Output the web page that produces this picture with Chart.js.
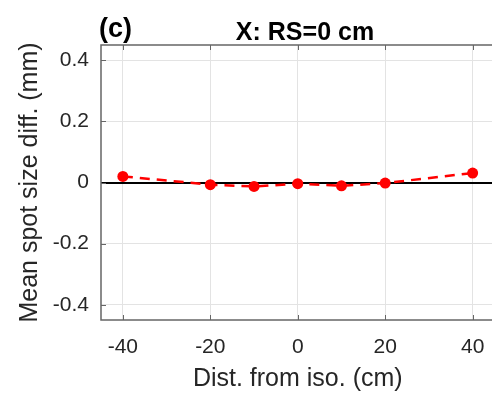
<!DOCTYPE html>
<html>
<head>
<meta charset="utf-8">
<script src="https://cdn.jsdelivr.net/npm/chart.js@4.4.0/dist/chart.umd.min.js"></script>
<style>
    html, body { margin: 0; padding: 0; background: #fff; overflow: hidden; }
    #contenitore { width: 492px; height: 394px; overflow: hidden; }
</style>
</head>
<body>
<div id="contenitore"><canvas id="grafico" width="500" height="394"></canvas></div>
<script>
// dati
var distanze = [-40, -20, -10, 0, 10, 20, 40];
var diffSpot = [0.020, -0.007, -0.013, -0.004, -0.011, -0.002, 0.031];
var tickX = [-40, -20, 0, 20, 40];
var tickY = [-0.4, -0.2, 0, 0.2, 0.4];
var pannello = '(c)';
var titolo = 'X: RS=0 cm';
var etichettaX = 'Dist. from iso. (cm)';
var etichettaY = 'Mean spot size diff. (mm)';

var FONT = '"Liberation Sans", Arial, Helvetica, sans-serif';

var punti = [];
for (var i = 0; i < distanze.length; i++) {
    punti.push({ x: distanze[i], y: diffSpot[i] });
}

// cornice stile matlab + titolo
var cornice = {
    id: 'cornice',
    afterDraw: function (chart) {
        var ctx = chart.ctx;
        var a = chart.chartArea;
        var sx = chart.scales.x;
        var sy = chart.scales.y;
        ctx.save();
        ctx.strokeStyle = '#666666';
        ctx.lineWidth = 1.5;
        ctx.strokeRect(a.left, a.top, a.right - a.left, a.bottom - a.top);
        ctx.lineWidth = 1;
        ctx.beginPath();
        for (var i = 0; i < tickX.length; i++) {
            var px = Math.round(sx.getPixelForValue(tickX[i])) + 0.5;
            ctx.moveTo(px, a.bottom); ctx.lineTo(px, a.bottom - 5);
            ctx.moveTo(px, a.top); ctx.lineTo(px, a.top + 5);
        }
        for (var j = 0; j < tickY.length; j++) {
            var py = Math.round(sy.getPixelForValue(tickY[j])) + 0.5;
            ctx.moveTo(a.left, py); ctx.lineTo(a.left + 5, py);
        }
        ctx.stroke();

        ctx.fillStyle = '#000';
        ctx.textBaseline = 'alphabetic';
        ctx.font = 'bold 25px ' + FONT;
        ctx.textAlign = 'center';
        ctx.fillText(titolo, 305, 40);
        ctx.font = 'bold 27px ' + FONT;
        ctx.textAlign = 'left';
        ctx.fillText(pannello, 99, 37);
        ctx.restore();
    }
};

var ctx = document.getElementById('grafico');
var chart = new Chart(ctx, {
    type: 'line',
    data: {
        datasets: [{
            data: punti,
            borderColor: '#ff0000',
            backgroundColor: '#ff0000',
            borderWidth: 2.5,
            borderDash: [10, 7],
            pointRadius: 5.5,
            pointHoverRadius: 5.5,
            pointBackgroundColor: '#ff0000',
            pointBorderWidth: 0,
            tension: 0
        }]
    },
    options: {
        responsive: false,
        animation: false,
        events: [],
        layout: { padding: { top: 45, right: 2, bottom: 0, left: 0 } },
        plugins: {
            legend: { display: false },
            tooltip: { enabled: false },
            title: { display: false }
        },
        scales: {
            x: {
                type: 'linear',
                min: -45,
                max: 45,
                afterBuildTicks: function (scale) {
                    scale.ticks = tickX.map(function (v) { return { value: v }; });
                },
                afterFit: function (scale) { scale.height = 74; },
                ticks: {
                    padding: 15,
                    color: '#262626',
                    font: { family: FONT, size: 21 },
                    maxRotation: 0,
                    callback: function (v) { return String(v); }
                },
                grid: { color: '#e3e3e3', lineWidth: 1, drawTicks: false },
                border: { display: false },
                title: {
                    display: true,
                    text: etichettaX,
                    color: '#262626',
                    font: { family: FONT, size: 25 },
                    padding: { top: 0, bottom: 0 }
                }
            },
            y: {
                min: -0.45,
                max: 0.45,
                afterBuildTicks: function (scale) {
                    scale.ticks = tickY.map(function (v) { return { value: v }; });
                },
                afterFit: function (scale) { scale.width = 101; },
                ticks: {
                    padding: 12,
                    color: '#262626',
                    font: { family: FONT, size: 21 },
                    callback: function (v) { return String(v); }
                },
                grid: {
                    color: function (c) { return c.tick && c.tick.value === 0 ? '#000000' : '#e3e3e3'; },
                    lineWidth: function (c) { return c.tick && c.tick.value === 0 ? 2 : 1; },
                    drawTicks: false
                },
                border: { display: false },
                title: {
                    display: true,
                    text: etichettaY,
                    color: '#262626',
                    font: { family: FONT, size: 25 },
                    padding: { top: 15, bottom: 0 }
                }
            }
        }
    },
    plugins: [cornice]
});
</script>
</body>
</html>
